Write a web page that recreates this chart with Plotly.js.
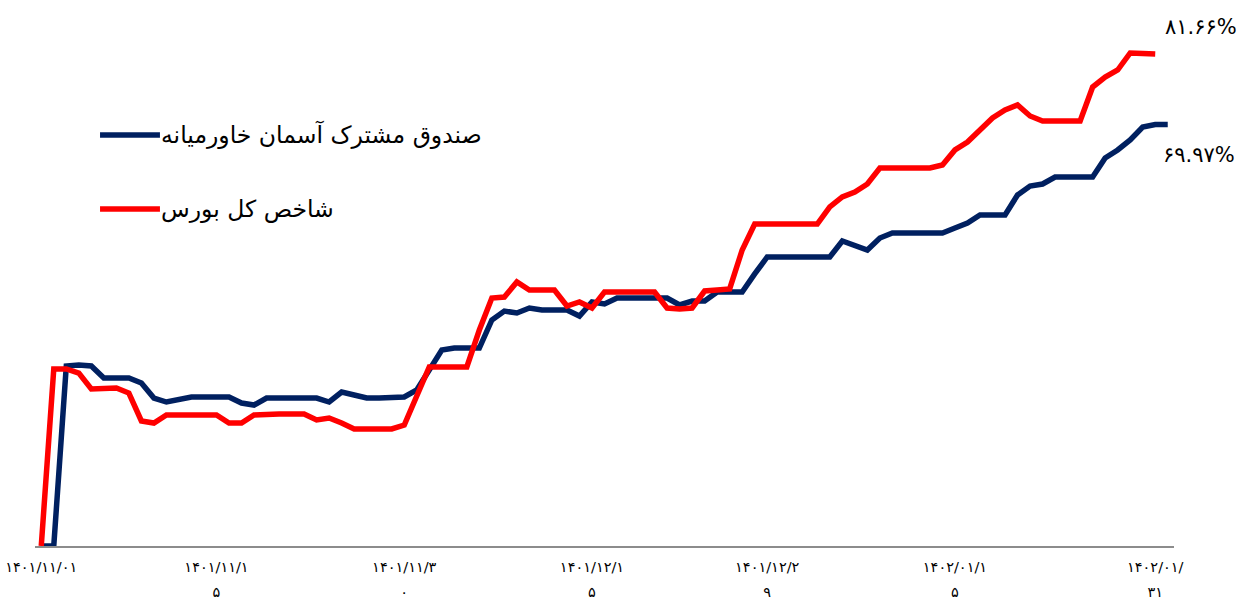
<!DOCTYPE html>
<html>
<head>
<meta charset="utf-8">
<script src="https://cdn.plot.ly/plotly-3.0.1.min.js"></script>
<style>
html,body{margin:0;padding:0;background:#fff;}
#chart{width:1238px;height:601px;}
</style>
</head>
<body>
<div id="chart"></div>
<script>
// Series names
const fundName = 'صندوق مشترک آسمان خاورمیانه';
const indexName = 'شاخص کل بورس';

// Cumulative return (%) per calendar day
const fundValues = [
  0, 0, 29.88, 30.04, 29.88, 27.88, 27.88, 27.88, 27.05, 24.56,
  23.90, 24.40, 24.73, 24.73, 24.73, 24.73, 23.73, 23.40, 24.56, 24.56,
  24.56, 24.56, 24.56, 23.90, 25.56, 25.06, 24.56, 24.56, 24.56, 24.73,
  25.89, 29.21, 32.53, 32.86, 32.86, 32.86, 37.51, 39.00, 38.67, 39.50,
  39.17, 39.17, 39.17, 38.17, 40.50, 40.17, 41.16, 41.16, 41.16, 41.16,
  41.16, 40.00, 40.66, 40.66, 42.16, 42.16, 42.16, 45.15, 47.97, 47.97,
  47.97, 47.97, 47.97, 47.97, 50.62, 49.96, 49.13, 51.12, 51.95, 51.95,
  51.95, 51.95, 51.95, 52.78, 53.61, 54.94, 54.94, 54.94, 58.26, 59.75,
  60.08, 61.24, 61.24, 61.24, 61.24, 64.40, 65.73, 67.39, 69.54, 69.96,
  69.97
];
const indexValues = [
  0, 29.38, 29.38, 28.71, 26.06, 26.06, 26.22, 25.39, 20.75, 20.41,
  21.74, 21.74, 21.74, 21.74, 21.74, 20.41, 20.41, 21.74, 21.91, 21.91,
  21.91, 21.91, 20.91, 21.24, 20.41, 19.42, 19.42, 19.42, 19.42, 20.08,
  24.90, 29.71, 29.71, 29.71, 29.71, 35.85, 41.16, 41.33, 43.82, 42.49,
  42.49, 42.49, 39.83, 40.50, 39.50, 42.16, 42.16, 42.16, 42.16, 42.16,
  39.50, 39.34, 39.50, 42.32, 42.49, 42.66, 49.13, 53.44, 53.44, 53.44,
  53.44, 53.44, 53.44, 56.27, 57.93, 58.76, 60.08, 62.74, 62.74, 62.74,
  62.74, 62.74, 63.24, 65.73, 67.05, 69.05, 71.04, 72.37, 73.20, 71.37,
  70.54, 70.54, 70.54, 70.54, 76.18, 77.84, 79.00, 81.83, 81.74, 81.66
];

// Day positions (calendar-day index from 1401/11/01)
const fundDays = fundValues.map((_, i) => i);
const indexDays = indexValues.map((_, i) => i);

// Axis tick labels (wrapped as in the original)
const tickDays = [0, 14, 29, 44, 58, 73, 89];
const tickLines = [
  ['۱۴۰۱/۱۱/۰۱'],
  ['۱۴۰۱/۱۱/۱', '۵'],
  ['۱۴۰۱/۱۱/۳', '۰'],
  ['۱۴۰۱/۱۲/۱', '۵'],
  ['۱۴۰۱/۱۲/۲', '۹'],
  ['۱۴۰۲/۰۱/۱', '۵'],
  ['۱۴۰۲/۰۱/', '۳۱']
];

// End-of-period labels
const indexEndLabel = '۸۱.۶۶%';
const fundEndLabel = '۶۹.۹۷%';

const NAVY = '#002060';
const RED = '#FF0000';
const FONT = 'DejaVu Sans, Noto Sans, sans-serif';

const tickText = tickLines.map(lines =>
  lines.map(s => '<span style="font-size:14.5px">' + s + '</span>').join('<br>'));

const traces = [
  {
    type: 'scatter', mode: 'lines', name: fundName,
    x: fundDays, y: fundValues,
    line: {color: NAVY, width: 5.5},
    hoverinfo: 'skip'
  },
  {
    type: 'scatter', mode: 'lines', name: indexName,
    x: indexDays, y: indexValues,
    line: {color: RED, width: 5.5},
    hoverinfo: 'skip'
  }
];

const lastF = fundValues.length - 1;
const lastI = indexValues.length - 1;

const layout = {
  width: 1238, height: 601,
  margin: {l: 35, r: 64, t: 20, b: 55},
  paper_bgcolor: '#fff', plot_bgcolor: '#fff',
  showlegend: false,
  font: {family: FONT, color: '#000'},
  xaxis: {
    range: [-0.5, 90.5],
    tickmode: 'array', tickvals: tickDays, ticktext: tickText,
    ticks: '', showgrid: false, zeroline: false,
    showline: true, linecolor: '#8c8c8c', linewidth: 1.5,
    tickfont: {family: FONT, size: 19, color: '#000'},
    ticklabelstandoff: 2,
    tickangle: 0, fixedrange: true
  },
  yaxis: {
    range: [0, 87.3],
    visible: false, showgrid: false, zeroline: false, fixedrange: true
  },
  shapes: [
    {type: 'line', xref: 'paper', yref: 'paper', x0: 0.0571, x1: 0.1097, y0: 0.7814, y1: 0.7814,
     line: {color: NAVY, width: 5.5}},
    {type: 'line', xref: 'paper', yref: 'paper', x0: 0.0571, x1: 0.1097, y0: 0.6407, y1: 0.6407,
     line: {color: RED, width: 5.5}}
  ],
  annotations: [
    {xref: 'paper', yref: 'paper', x: 0.1089, y: 0.7814, xanchor: 'left', yanchor: 'middle',
     text: fundName, showarrow: false, font: {family: FONT, size: 23.5, color: '#000'}},
    {xref: 'paper', yref: 'paper', x: 0.1089, y: 0.6407, xanchor: 'left', yanchor: 'middle',
     text: indexName, showarrow: false, font: {family: FONT, size: 23.5, color: '#000'}},
    {xref: 'x', yref: 'y', x: indexDays[lastI], y: indexValues[lastI], xanchor: 'center', yanchor: 'middle',
     xshift: 46, yshift: 27, text: indexEndLabel, showarrow: false,
     font: {family: FONT, size: 21, color: '#000'}},
    {xref: 'x', yref: 'y', x: fundDays[lastF], y: fundValues[lastF], xanchor: 'center', yanchor: 'middle',
     xshift: 31, yshift: -31, text: fundEndLabel, showarrow: false,
     font: {family: FONT, size: 21, color: '#000'}}
  ]
};

Plotly.newPlot('chart', traces, layout, {displayModeBar: false, staticPlot: true});
</script>
</body>
</html>
